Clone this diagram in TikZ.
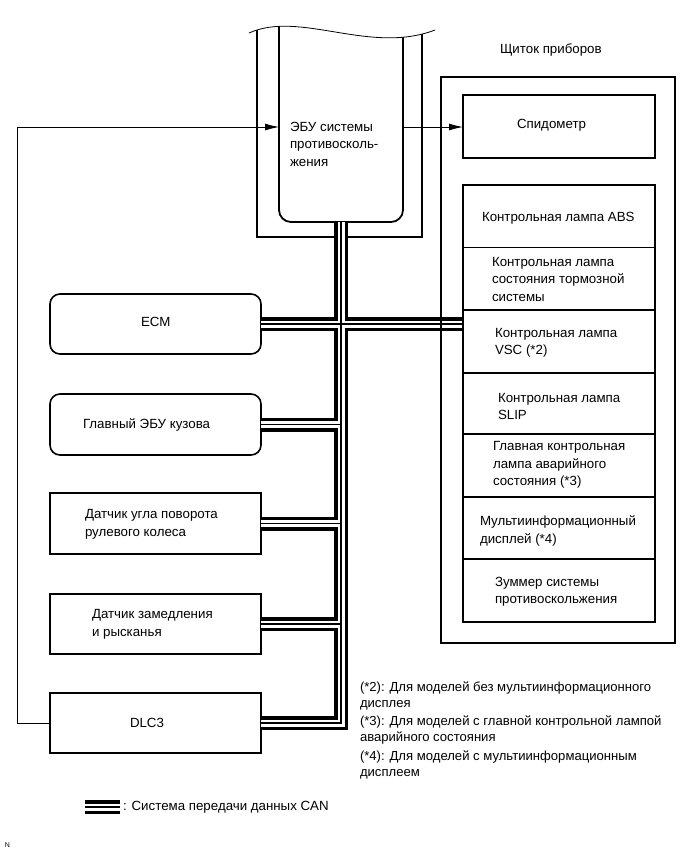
\documentclass[tikz,border=0pt]{standalone}
\usepackage{fontspec}
\setmainfont{Liberation Sans}
\usetikzlibrary{arrows.meta}
\begin{document}
\begin{tikzpicture}[x=1pt,y=-1pt,
  every node/.style={inner sep=0pt, outer sep=0pt},
  lbl/.style={anchor=west, align=left, font=\fontsize{13.3}{17.5}\selectfont},
  note/.style={anchor=west, align=left, font=\fontsize{13.1}{16}\selectfont},
  box/.style={draw, line width=1.6pt, minimum width=211pt, minimum height=60pt},
  rbox/.style={box, rounded corners=10pt},
  pbox/.style={draw, line width=1.6pt, minimum width=192pt},
  sig/.style={line width=0.9pt, -{Latex[length=14pt,width=7pt]}},
  busA/.style={line width=14pt},
  busB/.style={line width=7pt, white},
  busC/.style={line width=1.1pt},
]
\useasboundingbox (0,0) rectangle (690,855);

% ECU (cut-away)
\draw[line width=0.8pt] (249,33) .. controls (300,10) and (370,55) .. (435,30);
\begin{scope}
  \clip (249,33) .. controls (300,10) and (370,55) .. (435,30) -- (435,300) -- (249,300) -- cycle;
  \draw[line width=1.3pt] (257,0) -- (257,237) -- (422,237) -- (422,0);
  \draw[line width=1.8pt, rounded corners=12pt] (279,0) -- (279,222) -- (403,222) -- (403,0);
\end{scope}
\coordinate (ecuL) at (279,127);
\coordinate (ecuR) at (403,127);
\coordinate (ecuB) at (341,222);
\node[lbl] (ecut) at (290,144) {ЭБУ системы\\противосколь-\\жения};

% left boxes
\node[rbox] (ecm) at (155.5,324) {};
\node[lbl] (ecmt) at (141,322) {ECM};
\node[rbox, minimum height=61pt] (body) at (155.5,424.5) {};
\node[lbl] (bodyt) at (83,425) {Главный ЭБУ кузова};
\node[box, minimum height=61pt] (steer) at (155.5,523.5) {};
\node[lbl] (steert) at (85,524.5) {Датчик угла поворота\\рулевого колеса};
\node[box] (yaw) at (155.5,624) {};
\node[lbl] (yawt) at (92,624.5) {Датчик замедления\\и рысканья};
\node[box] (dlc) at (155.5,723) {};
\node[lbl] (dlct) at (130,723) {DLC3};

% right panel
\node[pbox, minimum height=63pt] (speedo) at (559,126.5) {};
\node[lbl] (speedot) at (517,125) {Спидометр};
\node[pbox, minimum height=437pt] (stack) at (559,403.5) {};
\draw[line width=1pt] (463,247) -- (655,247);
\foreach \yy in {310,373,434,497,559} \draw[line width=1.5pt] (463,\yy) -- (655,\yy);
\node[lbl] (l1) at (482,218) {Контрольная лампа ABS};
\node[lbl] (l2) at (492,279) {Контрольная лампа\\состояния тормозной\\системы};
\node[lbl] (l3) at (495,343) {Контрольная лампа\\VSC (*2)};
\node[lbl] (l4) at (498,406.5) {Контрольная лампа\\SLIP};
\node[lbl] (l5) at (493,465) {Главная контрольная\\лампа аварийного\\состояния (*3)};
\node[lbl] (l6) at (480,531) {Мультиинформационный\\дисплей (*4)};
\node[lbl] (l7) at (495,591.5) {Зуммер системы\\противоскольжения};
\node[lbl] (panelt) at (500,50) {Щиток приборов};

% CAN bus
\foreach \s in {busA,busB,busC}{
  \draw[\s] (ecuB) -- (ecuB |- dlc.east) -- (dlc.east);
  \draw[\s] (ecm.east) -- (ecm.east -| stack.west);
  \draw[\s] (body.east) -- (body.east -| ecuB);
  \draw[\s] (steer.east) -- (steer.east -| ecuB);
  \draw[\s] (yaw.east) -- (yaw.east -| ecuB);
}
\node[draw, line width=1.6pt, minimum width=234pt, minimum height=566pt] (panel) at (558,360) {};
\node[pbox, minimum height=437pt] at (559,403.5) {};

% signal lines
\coordinate (lc) at (17,127);
\draw[sig] (ecuR) -- (ecuR -| speedo.west);
\draw[sig, line width=0.8pt] (dlc.west) -- (dlc.west -| lc) -- (lc) -- (ecuL);

% notes
\node[note] (n2) at (360,696) {(*2): Для моделей без мультиинформационного\\дисплея};
\node[note] (n3) at (360,729.5) {(*3): Для моделей с главной контрольной лампой\\аварийного состояния};
\node[note] (n4) at (360,765) {(*4): Для моделей с мультиинформационным\\дисплеем};

% legend
\coordinate (lg1) at (85,807);
\coordinate (lg2) at (120,807);
\foreach \s in {busA,busB,busC} \draw[\s] (lg1) -- (lg2);
\node[lbl] (lgt) at (123,807) {: Система передачи данных CAN};
\node[anchor=west, font=\fontsize{7}{8}\selectfont] (nn) at (5,845) {N};
\end{tikzpicture}
\end{document}
